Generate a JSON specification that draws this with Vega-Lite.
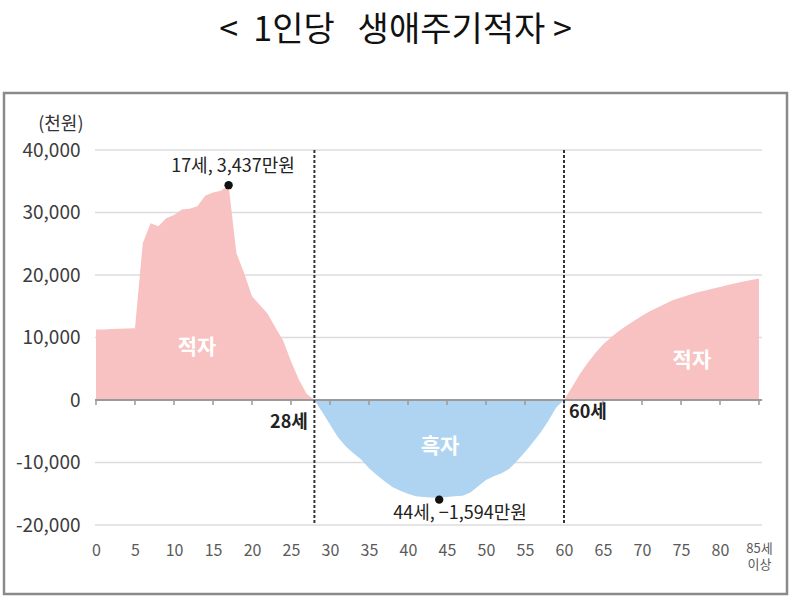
{
  "$schema": "https://vega.github.io/schema/vega-lite/v6.json",
  "width": 783,
  "height": 501,
  "autosize": "none",
  "padding": {"left": 4, "top": 93, "right": 10, "bottom": 7},
  "background": "white",
  "config": {
    "font": "Noto Sans CJK KR",
    "view": {"stroke": "#8a8a8a", "strokeWidth": 2.5}
  },
  "title": {
    "text": "<\u00a0\u00a01인당\u00a0\u00a0\u00a0생애주기적자\u00a0>",
    "fontSize": 34,
    "fontWeight": "normal",
    "color": "#111111",
    "anchor": "middle",
    "offset": 45
  },
  "datasets": {
    "lifecycle": [
      {"age": 0, "value": 11300, "seg": "a"},
      {"age": 1, "value": 11300, "seg": "a"},
      {"age": 2, "value": 11350, "seg": "a"},
      {"age": 3, "value": 11400, "seg": "a"},
      {"age": 4, "value": 11450, "seg": "a"},
      {"age": 5, "value": 11500, "seg": "a"},
      {"age": 6, "value": 25100, "seg": "a"},
      {"age": 7, "value": 28300, "seg": "a"},
      {"age": 8, "value": 27800, "seg": "a"},
      {"age": 9, "value": 29100, "seg": "a"},
      {"age": 10, "value": 29600, "seg": "a"},
      {"age": 11, "value": 30500, "seg": "a"},
      {"age": 12, "value": 30600, "seg": "a"},
      {"age": 13, "value": 31000, "seg": "a"},
      {"age": 14, "value": 32700, "seg": "a"},
      {"age": 15, "value": 33200, "seg": "a"},
      {"age": 16, "value": 33500, "seg": "a"},
      {"age": 17, "value": 34370, "seg": "a"},
      {"age": 18, "value": 23500, "seg": "a"},
      {"age": 19, "value": 20300, "seg": "a"},
      {"age": 20, "value": 16600, "seg": "a"},
      {"age": 21, "value": 15200, "seg": "a"},
      {"age": 22, "value": 13800, "seg": "a"},
      {"age": 23, "value": 11600, "seg": "a"},
      {"age": 24, "value": 9500, "seg": "a"},
      {"age": 25, "value": 6200, "seg": "a"},
      {"age": 26, "value": 3300, "seg": "a"},
      {"age": 27, "value": 1000, "seg": "a"},
      {"age": 28, "value": 0, "seg": "a"},
      {"age": 28, "value": 0, "seg": "b"},
      {"age": 29, "value": -1900, "seg": "b"},
      {"age": 30, "value": -3900, "seg": "b"},
      {"age": 31, "value": -5900, "seg": "b"},
      {"age": 32, "value": -7400, "seg": "b"},
      {"age": 33, "value": -8500, "seg": "b"},
      {"age": 34, "value": -9500, "seg": "b"},
      {"age": 35, "value": -10900, "seg": "b"},
      {"age": 36, "value": -12000, "seg": "b"},
      {"age": 37, "value": -13000, "seg": "b"},
      {"age": 38, "value": -13900, "seg": "b"},
      {"age": 39, "value": -14500, "seg": "b"},
      {"age": 40, "value": -15000, "seg": "b"},
      {"age": 41, "value": -15400, "seg": "b"},
      {"age": 42, "value": -15500, "seg": "b"},
      {"age": 43, "value": -15600, "seg": "b"},
      {"age": 44, "value": -15650, "seg": "b"},
      {"age": 45, "value": -15500, "seg": "b"},
      {"age": 46, "value": -15400, "seg": "b"},
      {"age": 47, "value": -15300, "seg": "b"},
      {"age": 48, "value": -14800, "seg": "b"},
      {"age": 49, "value": -13800, "seg": "b"},
      {"age": 50, "value": -12800, "seg": "b"},
      {"age": 51, "value": -12200, "seg": "b"},
      {"age": 52, "value": -11700, "seg": "b"},
      {"age": 53, "value": -11000, "seg": "b"},
      {"age": 54, "value": -9700, "seg": "b"},
      {"age": 55, "value": -8300, "seg": "b"},
      {"age": 56, "value": -6800, "seg": "b"},
      {"age": 57, "value": -5200, "seg": "b"},
      {"age": 58, "value": -3300, "seg": "b"},
      {"age": 59, "value": -1200, "seg": "b"},
      {"age": 60, "value": 0, "seg": "b"},
      {"age": 60, "value": 0, "seg": "c"},
      {"age": 61, "value": 2000, "seg": "c"},
      {"age": 62, "value": 4100, "seg": "c"},
      {"age": 63, "value": 5900, "seg": "c"},
      {"age": 64, "value": 7500, "seg": "c"},
      {"age": 65, "value": 8900, "seg": "c"},
      {"age": 66, "value": 10000, "seg": "c"},
      {"age": 67, "value": 11000, "seg": "c"},
      {"age": 68, "value": 11900, "seg": "c"},
      {"age": 69, "value": 12700, "seg": "c"},
      {"age": 70, "value": 13500, "seg": "c"},
      {"age": 71, "value": 14200, "seg": "c"},
      {"age": 72, "value": 14800, "seg": "c"},
      {"age": 73, "value": 15400, "seg": "c"},
      {"age": 74, "value": 16000, "seg": "c"},
      {"age": 75, "value": 16400, "seg": "c"},
      {"age": 76, "value": 16800, "seg": "c"},
      {"age": 77, "value": 17200, "seg": "c"},
      {"age": 78, "value": 17500, "seg": "c"},
      {"age": 79, "value": 17800, "seg": "c"},
      {"age": 80, "value": 18100, "seg": "c"},
      {"age": 81, "value": 18400, "seg": "c"},
      {"age": 82, "value": 18700, "seg": "c"},
      {"age": 83, "value": 18950, "seg": "c"},
      {"age": 84, "value": 19200, "seg": "c"},
      {"age": 85, "value": 19450, "seg": "c"}
    ],
    "grid": [
      {"value": 40000}, {"value": 30000}, {"value": 20000},
      {"value": 10000}, {"value": -10000}, {"value": -20000}
    ],
    "baseline": [{"value": 0}],
    "ticks": [
      {"age": 0}, {"age": 5}, {"age": 10}, {"age": 15}, {"age": 20}, {"age": 25},
      {"age": 30}, {"age": 35}, {"age": 40}, {"age": 45}, {"age": 50}, {"age": 55},
      {"age": 60}, {"age": 65}, {"age": 70}, {"age": 75}, {"age": 80}, {"age": 85}
    ],
    "bounds": [{"age": 28}, {"age": 60}],
    "peaks": [
      {"age": 17, "value": 34370},
      {"age": 44, "value": -15940}
    ],
    "regionLabels": [
      {"age": 12.95, "value": 8300, "text": "적자"},
      {"age": 76.4, "value": 6200, "text": "적자"},
      {"age": 44.1, "value": -7500, "text": "흑자"}
    ],
    "ageLabels": [
      {"age": 24.74, "value": -3700, "text": "28세"},
      {"age": 63.08, "value": -2100, "text": "60세"}
    ],
    "callouts": [
      {"age": 17.56, "value": 37280, "text": "17세, 3,437만원"},
      {"age": 46.67, "value": -18240, "text": "44세, −1,594만원"}
    ]
  },
  "layer": [
    {
      "data": {"name": "grid"},
      "mark": {"type": "rule", "color": "#dcdcdc", "strokeWidth": 1.5},
      "encoding": {
        "y": {"field": "value", "type": "quantitative", "scale": {"domain": [-31040, 49120], "nice": false, "zero": false}},
        "x": {"datum": -0.13, "type": "quantitative", "scale": {"domain": [-11.795, 88.59], "nice": false, "zero": false}},
        "x2": {"datum": 85.4}
      }
    },
    {
      "data": {"name": "lifecycle"},
      "mark": {"type": "area", "interpolate": "linear", "opacity": 1},
      "encoding": {
        "x": {
          "field": "age",
          "type": "quantitative",
          "scale": {"domain": [-11.795, 88.59], "nice": false, "zero": false},
          "axis": {
            "values": [0, 5, 10, 15, 20, 25, 30, 35, 40, 45, 50, 55, 60, 65, 70, 75, 80, 85],
            "labelExpr": "datum.value == 85 ? ['85세', '이상'] : datum.label",
            "offset": -52,
            "domain": false,
            "ticks": false,
            "tickSize": 0,
            "grid": false,
            "labelPadding": 0,
            "labelBaseline": "top",
            "labelFontSize": {"condition": {"test": "datum.value == 85", "value": 13}, "value": 16},
            "labelLineHeight": 16,
            "labelColor": "#5a5a5a",
            "labelFlush": false,
            "labelOverlap": false,
            "title": null
          }
        },
        "y": {
          "field": "value",
          "type": "quantitative",
          "stack": null,
          "scale": {"domain": [-31040, 49120], "nice": false, "zero": false},
          "axis": {
            "values": [-20000, -10000, 0, 10000, 20000, 30000, 40000],
            "labelExpr": "replace(format(datum.value, ','), '−', '-')",
            "offset": -76,
            "domain": false,
            "ticks": false,
            "tickSize": 0,
            "grid": false,
            "labelPadding": 0,
            "labelFontSize": 19,
            "labelColor": "#3c3c3c",
            "labelFlush": false,
            "labelOverlap": false,
            "title": "(천원)",
            "titleAngle": 0,
            "titleAlign": "right",
            "titleBaseline": "middle",
            "titleX": 3,
            "titleY": 31,
            "titleFontSize": 18,
            "titleFontWeight": "normal",
            "titleColor": "#333333"
          }
        },
        "y2": {"datum": 0},
        "color": {
          "field": "seg",
          "type": "nominal",
          "scale": {"domain": ["a", "b", "c"], "range": ["#f7c2c1", "#aed4f1", "#f7c2c1"]},
          "legend": null
        }
      }
    },
    {
      "data": {"name": "baseline"},
      "mark": {"type": "rule", "color": "#9a9a9a", "strokeWidth": 2},
      "encoding": {
        "y": {"field": "value", "type": "quantitative", "scale": {"domain": [-31040, 49120], "nice": false, "zero": false}},
        "x": {"datum": -0.13, "type": "quantitative", "scale": {"domain": [-11.795, 88.59], "nice": false, "zero": false}},
        "x2": {"datum": 85.4}
      }
    },
    {
      "data": {"name": "ticks"},
      "mark": {"type": "rule", "color": "#9a9a9a", "strokeWidth": 1.5},
      "encoding": {
        "x": {"field": "age", "type": "quantitative", "scale": {"domain": [-11.795, 88.59], "nice": false, "zero": false}},
        "y": {"datum": 0, "type": "quantitative", "scale": {"domain": [-31040, 49120], "nice": false, "zero": false}},
        "y2": {"datum": -800}
      }
    },
    {
      "data": {"name": "bounds"},
      "mark": {"type": "rule", "color": "#333333", "strokeWidth": 2, "strokeDash": [3, 2]},
      "encoding": {
        "x": {"field": "age", "type": "quantitative", "scale": {"domain": [-11.795, 88.59], "nice": false, "zero": false}},
        "y": {"datum": 40000, "type": "quantitative", "scale": {"domain": [-31040, 49120], "nice": false, "zero": false}},
        "y2": {"datum": -20000}
      }
    },
    {
      "data": {"name": "peaks"},
      "mark": {"type": "circle", "color": "#111111", "size": 70, "opacity": 1},
      "encoding": {
        "x": {"field": "age", "type": "quantitative", "scale": {"domain": [-11.795, 88.59], "nice": false, "zero": false}},
        "y": {"field": "value", "type": "quantitative", "scale": {"domain": [-31040, 49120], "nice": false, "zero": false}}
      }
    },
    {
      "data": {"name": "regionLabels"},
      "mark": {"type": "text", "color": "white", "fontSize": 21, "fontWeight": "bold", "align": "center", "baseline": "middle"},
      "encoding": {
        "x": {"field": "age", "type": "quantitative", "scale": {"domain": [-11.795, 88.59], "nice": false, "zero": false}},
        "y": {"field": "value", "type": "quantitative", "scale": {"domain": [-31040, 49120], "nice": false, "zero": false}},
        "text": {"field": "text", "type": "nominal"}
      }
    },
    {
      "data": {"name": "ageLabels"},
      "mark": {"type": "text", "color": "#222222", "fontSize": 18, "fontWeight": "bold", "align": "center", "baseline": "middle"},
      "encoding": {
        "x": {"field": "age", "type": "quantitative", "scale": {"domain": [-11.795, 88.59], "nice": false, "zero": false}},
        "y": {"field": "value", "type": "quantitative", "scale": {"domain": [-31040, 49120], "nice": false, "zero": false}},
        "text": {"field": "text", "type": "nominal"}
      }
    },
    {
      "data": {"name": "callouts"},
      "mark": {"type": "text", "color": "#222222", "fontSize": 18, "align": "center", "baseline": "middle"},
      "encoding": {
        "x": {"field": "age", "type": "quantitative", "scale": {"domain": [-11.795, 88.59], "nice": false, "zero": false}},
        "y": {"field": "value", "type": "quantitative", "scale": {"domain": [-31040, 49120], "nice": false, "zero": false}},
        "text": {"field": "text", "type": "nominal"}
      }
    }
  ]
}
